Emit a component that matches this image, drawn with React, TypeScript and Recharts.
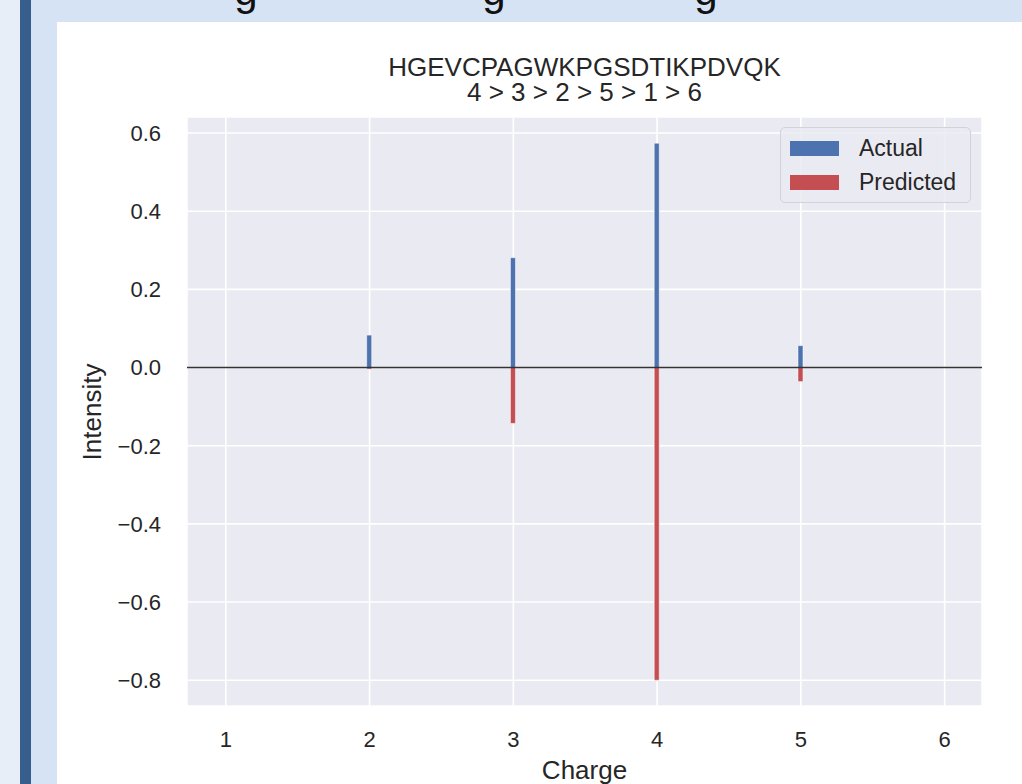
import React from "react";
import {
  BarChart,
  Bar,
  XAxis,
  YAxis,
  CartesianGrid,
  Legend,
  ReferenceLine,
} from "recharts";

const charges = [1, 2, 3, 4, 5, 6];
const actual = [0, 0.083, 0.281, 0.574, 0.056, 0];
const predicted = [0, -0.004, -0.143, -0.8, -0.036, 0];
const xTicks = [1, 2, 3, 4, 5, 6];
const yTicks = [-0.8, -0.6, -0.4, -0.2, 0, 0.2, 0.4, 0.6];
const peptide = "HGEVCPAGWKPGSDTIKPDVQK";
const ranking = "4 > 3 > 2 > 5 > 1 > 6";

const BLUE = "#4c72b0";
const RED = "#c44e52";
const FONT = "'Liberation Sans', Arial, Helvetica, sans-serif";

const data = charges.map((c, i) => ({
  charge: c,
  Actual: actual[i],
  Predicted: predicted[i],
}));

function fmtY(v: number) {
  const s = Math.abs(v).toFixed(1);
  return v < 0 ? `\u2212${s}` : s;
}

function LegendBox() {
  const items = [
    { name: "Actual", color: BLUE },
    { name: "Predicted", color: RED },
  ];
  return (
    <div
      style={{
        width: 191,
        height: 76,
        boxSizing: "border-box",
        border: "1px solid #d2d2d8",
        borderRadius: 5,
        background: "rgba(234,234,242,0.85)",
        paddingTop: 3,
        fontFamily: FONT,
        fontSize: 23,
        color: "#262626",
      }}
    >
      {items.map((it) => (
        <div key={it.name} style={{ display: "flex", alignItems: "center", height: 34, paddingLeft: 9 }}>
          <span style={{ display: "inline-block", width: 49, height: 15, background: it.color, marginRight: 20 }} />
          <span style={{ lineHeight: "34px" }}>{it.name}</span>
        </div>
      ))}
    </div>
  );
}

export default function App() {
  return (
    <div
      style={{
        position: "absolute",
        left: 0,
        top: 0,
        width: 1022,
        height: 784,
        overflow: "hidden",
        background: "#d6e3f4",
        fontFamily: FONT,
      }}
    >
      <div style={{ position: "absolute", left: 0, top: 0, width: 20, height: 784, background: "#e7eef8" }} />
      <div style={{ position: "absolute", left: 20, top: 0, width: 11, height: 784, background: "#375e8c" }} />
      <svg style={{ position: "absolute", left: 0, top: 0 }} width={1022} height={22}>
        <g fontFamily={FONT} fontSize={42} fill="#111" textAnchor="middle">
          <text x={246} y={5}>g</text>
          <text x={494} y={5}>g</text>
          <text x={706} y={5}>g</text>
        </g>
      </svg>
      <div style={{ position: "absolute", left: 57, top: 22, width: 965, height: 762, background: "#ffffff" }}>
        <BarChart
          width={965}
          height={762}
          data={data}
          stackOffset="sign"
          barSize={5}
          margin={{ top: 95, right: 40, bottom: 48, left: 50 }}
        >
          <CartesianGrid fill="#eaeaf2" fillOpacity={1} stroke="#ffffff" strokeWidth={1.6} />
          <XAxis
            dataKey="charge"
            type="number"
            domain={[0.73, 6.26]}
            ticks={xTicks}
            allowDataOverflow
            axisLine={false}
            tickLine={false}
            tickSize={6}
            tickMargin={19}
            height={30}
            tick={{ fontSize: 22, fill: "#262626", fontFamily: FONT }}
          />
          <YAxis
            type="number"
            domain={[-0.866, 0.641]}
            ticks={yTicks}
            allowDataOverflow
            axisLine={false}
            tickLine={false}
            tickSize={6}
            tickMargin={20}
            width={80}
            tickFormatter={fmtY}
            tick={{ fontSize: 22, fill: "#262626", fontFamily: FONT }}
          />
          <Legend
            layout="horizontal"
            verticalAlign="middle"
            align="center"
            content={() => <LegendBox />}
            wrapperStyle={{ top: 105, left: 723, width: 191, height: 76 }}
          />
          <Bar dataKey="Actual" stackId="s" fill={BLUE} stroke="#ffffff" strokeWidth={0.5} isAnimationActive={false} />
          <Bar dataKey="Predicted" stackId="s" fill={RED} stroke="#ffffff" strokeWidth={0.5} isAnimationActive={false} />
          <ReferenceLine y={0} stroke="#333333" strokeWidth={1.4} />
        </BarChart>
      </div>
      <svg style={{ position: "absolute", left: 0, top: 0 }} width={1022} height={784} pointerEvents="none">
        <g fontFamily={FONT} fontSize={26} fill="#262626" textAnchor="middle">
          <text x={584.5} y={76}>{peptide}</text>
          <text x={584.5} y={101}>{ranking}</text>
          <text x={584.5} y={779}>Charge</text>
          <text x={0} y={0} transform="translate(101 412) rotate(-90)">Intensity</text>
        </g>
      </svg>
    </div>
  );
}
